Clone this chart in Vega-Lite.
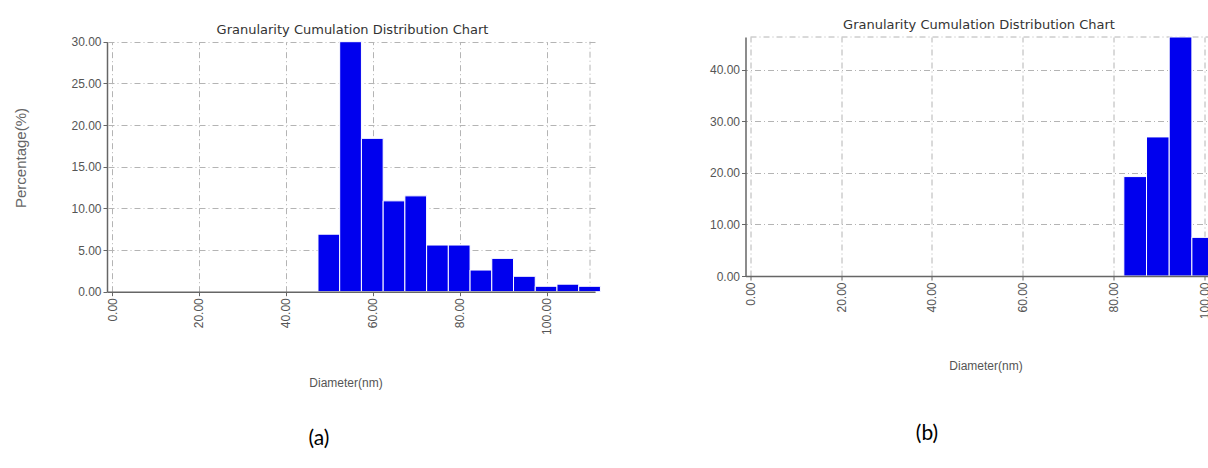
{
  "$schema": "https://vega.github.io/schema/vega-lite/v6.json",
  "background": "white",
  "padding": {"left": 13, "top": 18, "right": 0, "bottom": 0},
  "bounds": "flush",
  "spacing": 150.5,
  "hconcat": [
    {
      "width": 488,
      "height": 254.7,
      "title": {"text": "(a)", "orient": "bottom", "anchor": "middle", "dx": -32, "offset": 39.5, "fontSize": 21, "font": "Lato", "fontWeight": "normal", "color": "#000000"},
      "resolve": {"axis": {"x": "independent", "y": "independent"}},
      "layer": [
        {
          "data": {"values": [{"edge": 110, "low": 0, "high": 30}]},
          "mark": {"type": "rule", "color": "#b4b4b4", "strokeDash": [6, 3, 1, 3]},
          "encoding": {
            "x": {"field": "edge", "type": "quantitative", "scale": {"domain": [0, 110], "nice": false, "zero": false},
              "axis": {"orient": "top", "title": "Granularity Cumulation Distribution  Chart", "labels": false, "ticks": false, "domain": false, "grid": true, "values": [0, 20, 40, 60, 80, 100], "titlePadding": 1, "titleColor": "#333333", "titleFont": "DejaVu Sans", "titleFontSize": 13, "titleX": 245}},
            "y": {"field": "low", "type": "quantitative", "scale": {"domain": [0, 30], "nice": false, "range": [254.7, 4.7]},
              "axis": {"orient": "right", "title": null, "labels": false, "ticks": false, "domain": false, "grid": true, "values": [0, 5, 10, 15, 20, 25, 30]}},
            "y2": {"field": "high"}
          }
        },
        {
          "data": {"values": [
            {"start": 47.4, "end": 52.4, "pct": 6.9},
            {"start": 52.4, "end": 57.4, "pct": 30.0},
            {"start": 57.4, "end": 62.4, "pct": 18.4},
            {"start": 62.4, "end": 67.4, "pct": 10.9},
            {"start": 67.4, "end": 72.4, "pct": 11.5},
            {"start": 72.4, "end": 77.4, "pct": 5.6},
            {"start": 77.4, "end": 82.4, "pct": 5.6},
            {"start": 82.4, "end": 87.4, "pct": 2.6},
            {"start": 87.4, "end": 92.4, "pct": 4.0},
            {"start": 92.4, "end": 97.4, "pct": 1.85},
            {"start": 97.4, "end": 102.4, "pct": 0.65},
            {"start": 102.4, "end": 107.4, "pct": 0.9},
            {"start": 107.4, "end": 112.4, "pct": 0.65}
          ]},
          "mark": {"type": "bar", "orient": "vertical", "color": "#0000ee", "stroke": "#ffffff", "strokeWidth": 1},
          "encoding": {
            "x": {"field": "start", "type": "quantitative", "scale": {"domain": [0, 110], "nice": false, "zero": false},
              "axis": {"orient": "bottom", "title": "Diameter(nm)", "values": [0, 20, 40, 60, 80, 100], "format": ".2f", "labelAngle": -90, "grid": false, "zindex": 1, "titlePadding": 43.5, "titleX": 238.5}},
            "x2": {"field": "end"},
            "y": {"field": "pct", "type": "quantitative", "scale": {"domain": [0, 30], "nice": false, "range": [254.7, 4.7]},
              "axis": {"orient": "left", "title": "Percentage(%)", "titleFontSize": 15, "titleColor": "#666666", "values": [0, 5, 10, 15, 20, 25, 30], "format": ".2f", "grid": false, "zindex": 1, "titlePadding": 42.5, "titleY": 120.5}},
            "y2": {"datum": 0}
          }
        }
      ]
    },
    {
      "width": 509,
      "height": 239,
      "title": {"text": "(b)", "orient": "bottom", "anchor": "middle", "dx": -73, "offset": 51.5, "fontSize": 21, "font": "Lato", "fontWeight": "normal", "color": "#000000"},
      "resolve": {"axis": {"x": "independent", "y": "independent"}},
      "layer": [
        {
          "data": {"values": [{"left": 0, "right": 110, "top": 46.4}]},
          "mark": {"type": "rule", "color": "#b4b4b4", "strokeDash": [6, 3, 1, 3]},
          "encoding": {
            "x": {"field": "left", "type": "quantitative", "scale": {"domain": [0, 110], "nice": false, "zero": false},
              "axis": {"orient": "top", "title": "Granularity Cumulation Distribution  Chart", "labels": false, "ticks": false, "domain": false, "grid": true, "values": [0, 20, 40, 60, 80, 100], "titlePadding": 5.5, "titleColor": "#333333", "titleFont": "DejaVu Sans", "titleFontSize": 13, "titleX": 233}},
            "x2": {"field": "right"},
            "y": {"field": "top", "type": "quantitative", "scale": {"domain": [0, 46.4], "nice": false, "zero": true},
              "axis": {"orient": "right", "title": null, "labels": false, "ticks": false, "domain": false, "grid": true, "values": [0, 10, 20, 30, 40]}}
          }
        },
        {
          "data": {"values": [
            {"start": 82.3, "end": 87.3, "pct": 19.3},
            {"start": 87.3, "end": 92.3, "pct": 27.0},
            {"start": 92.3, "end": 97.3, "pct": 46.4},
            {"start": 97.3, "end": 102.3, "pct": 7.5}
          ]},
          "mark": {"type": "bar", "orient": "vertical", "color": "#0000ee", "stroke": "#ffffff", "strokeWidth": 1},
          "encoding": {
            "x": {"field": "start", "type": "quantitative", "scale": {"domain": [0, 110], "nice": false, "zero": false},
              "axis": {"orient": "bottom", "title": "Diameter(nm)", "values": [0, 20, 40, 60, 80, 100], "format": ".2f", "labelAngle": -90, "grid": false, "zindex": 1, "titlePadding": 42, "titleX": 240}},
            "x2": {"field": "end"},
            "y": {"field": "pct", "type": "quantitative", "scale": {"domain": [0, 46.4], "nice": false, "zero": true},
              "axis": {"orient": "left", "title": null, "values": [0, 10, 20, 30, 40], "format": ".2f", "grid": false, "zindex": 1}},
            "y2": {"datum": 0}
          }
        }
      ]
    }
  ],
  "config": {
    "view": {"stroke": null},
    "font": "Liberation Sans",
    "axis": {
      "labelFont": "Liberation Sans",
      "labelFontSize": 12,
      "labelColor": "#555555",
      "labelPadding": 2,
      "domainColor": "#666666",
      "domainWidth": 1.5,
      "tickColor": "#666666",
      "tickSize": 4,
      "gridColor": "#b4b4b4",
      "gridDash": [6, 3, 1, 3],
      "gridWidth": 1,
      "titleFont": "Liberation Sans",
      "titleFontWeight": "normal",
      "titleFontSize": 12,
      "titleColor": "#555555"
    }
  }
}
